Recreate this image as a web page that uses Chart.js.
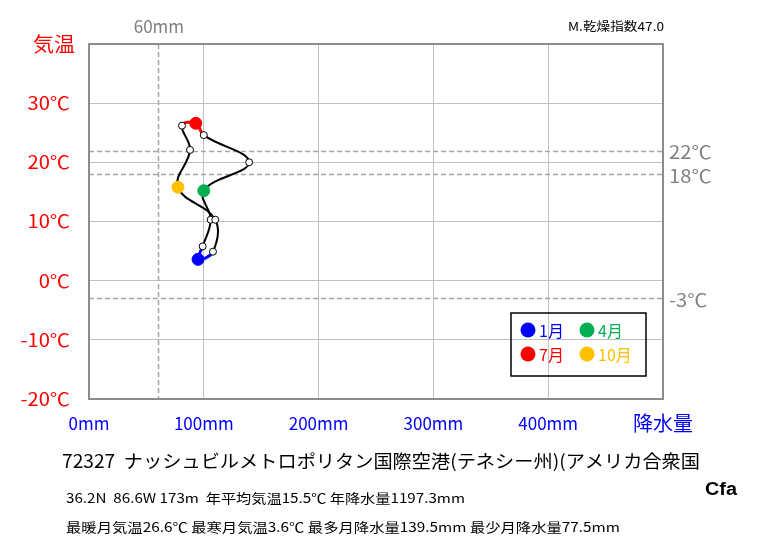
<!DOCTYPE html>
<html lang="ja">
<head>
<meta charset="utf-8">
<script src="https://cdn.jsdelivr.net/npm/chart.js@4.4.1/dist/chart.umd.min.js"></script>
<style>
body { margin: 0; background: #fff; }
#wrap { width: 763px; height: 545px; }
</style>
</head>
<body>
<div id="wrap"><canvas id="climo" width="763" height="545"></canvas></div>
<script>
// 月別の平年値 (ナッシュビル)
const months = ['1月', '2月', '3月', '4月', '5月', '6月', '7月', '8月', '9月', '10月', '11月', '12月'];
const precip = [95, 99, 106, 100, 139.5, 100, 93, 81, 88, 77.5, 110, 108];
const temps = [3.6, 5.8, 10.3, 15.2, 20.0, 24.6, 26.6, 26.2, 22.1, 15.8, 10.3, 4.9];

// 軸ラベル
const xTicks = [0, 100, 200, 300, 400];
const xTickLabels = ['0mm', '100mm', '200mm', '300mm', '400mm'];
const yTicks = [30, 20, 10, 0, -10, -20];
const yTickLabels = ['30℃', '20℃', '10℃', '0℃', '-10℃', '-20℃'];

// 区分線
const refTemps = [22, 18, -3];
const refTempLabels = ['22℃', '18℃', '-3℃'];
const refPrecip = 60;
const refPrecipLabel = '60mm';

// 強調する月
const keyMonths = [0, 3, 6, 9];
const keyColors = ['#0000ff', '#00b050', '#ff0000', '#ffc000'];

const JP = '"Noto Sans CJK JP", "Noto Sans", sans-serif';

// 閉じた曲線にするため 12月,1月...12月,1月,2月 の順に並べる
const order = [11].concat(months.map((m, i) => i), [0, 1]);
const points = order.map(i => ({ x: precip[i], y: temps[i] }));
const lastIdx = order.length - 1;

function keyColorOf(monthIdx) {
    const k = keyMonths.indexOf(monthIdx);
    return k >= 0 ? keyColors[k] : null;
}

function segColor(ctx) {
    const a = ctx.p0DataIndex;
    if (a === 0 || a === lastIdx - 1) return 'rgba(0,0,0,0)';
    const m0 = order[a], m1 = order[a + 1];
    if (m0 === 0 || m1 === 0) return keyColors[0];
    if (m0 === 6 || m1 === 6) return keyColors[2];
    return '#000000';
}

function segWidth(ctx) {
    const m0 = order[ctx.p0DataIndex], m1 = order[ctx.p0DataIndex + 1];
    return (m0 === 0 || m1 === 0 || m0 === 6 || m1 === 6) ? 3 : 2;
}

const pointRadius = order.map((m, i) => {
    if (i === 0 || i >= lastIdx - 1) return 0;
    return keyColorOf(m) ? 6 : 3.5;
});
const pointBg = order.map(m => keyColorOf(m) || '#ffffff');
const pointBorder = order.map(m => keyColorOf(m) ? keyColorOf(m) : '#000000');

// 幅を指定して文字を描く (align: 'left' | 'right')
function fitText(ctx, text, x, y, width, align) {
    const w = ctx.measureText(text).width;
    ctx.save();
    ctx.textAlign = 'left';
    ctx.translate(align === 'right' ? x - width : x, y);
    ctx.scale(width / w, 1);
    ctx.fillText(text, 0, 0);
    ctx.restore();
}

const decorPlugin = {
    id: 'decor',
    beforeDatasetsDraw(chart) {
        const { ctx, chartArea: ca, scales } = chart;
        ctx.save();
        ctx.strokeStyle = '#a6a6a6';
        ctx.lineWidth = 1.5;
        ctx.setLineDash([5, 3]);
        refTemps.forEach(t => {
            const y = Math.round(scales.y.getPixelForValue(t)) + 0.5;
            ctx.beginPath();
            ctx.moveTo(ca.left, y);
            ctx.lineTo(ca.right, y);
            ctx.stroke();
        });
        const x60 = Math.round(scales.x.getPixelForValue(refPrecip)) + 0.5;
        ctx.beginPath();
        ctx.moveTo(x60, ca.top);
        ctx.lineTo(x60, ca.bottom);
        ctx.stroke();
        ctx.restore();
    },
    afterDraw(chart) {
        const { ctx, chartArea: ca, scales } = chart;
        ctx.save();

        // 枠
        ctx.strokeStyle = '#8c8c8c';
        ctx.lineWidth = 2;
        ctx.strokeRect(ca.left, ca.top, ca.right - ca.left, ca.bottom - ca.top);

        // 気温目盛
        ctx.fillStyle = '#ff0000';
        ctx.font = '18px ' + JP;
        ctx.textBaseline = 'middle';
        yTicks.forEach((t, i) => {
            const w = ctx.measureText(yTickLabels[i]).width * 1.12;
            fitText(ctx, yTickLabels[i], 70, scales.y.getPixelForValue(t), w, 'right');
        });
        ctx.font = '20px ' + JP;
        fitText(ctx, '気温', 33, 44, 42);

        // 降水量目盛
        ctx.fillStyle = '#0000ff';
        ctx.font = '17px ' + JP;
        ctx.textAlign = 'center';
        xTicks.forEach((v, i) => {
            ctx.fillText(xTickLabels[i], scales.x.getPixelForValue(v), 424);
        });
        ctx.font = '20px ' + JP;
        ctx.fillText('降水量', scales.x.getPixelForValue(500), 423);

        // 区分線ラベル
        ctx.fillStyle = '#808080';
        ctx.font = '18px ' + JP;
        refTemps.forEach((t, i) => {
            const w = ctx.measureText(refTempLabels[i]).width * 1.12;
            fitText(ctx, refTempLabels[i], 669, scales.y.getPixelForValue(t) + 2, w);
        });
        ctx.font = '17px ' + JP;
        ctx.textAlign = 'center';
        ctx.fillText(refPrecipLabel, scales.x.getPixelForValue(refPrecip) + 1, 27);

        // 乾燥指数
        ctx.fillStyle = '#000000';
        ctx.font = '12px ' + JP;
        fitText(ctx, 'M.乾燥指数47.0', 568, 26, 96);

        // 凡例
        ctx.strokeStyle = '#000000';
        ctx.lineWidth = 1.5;
        ctx.strokeRect(511, 313, 135, 63);
        ctx.font = '16px ' + JP;
        ctx.textAlign = 'left';
        keyMonths.forEach((m, k) => {
            const cx = 528 + (k % 2) * 59;
            const cy = 330 + Math.floor(k / 2) * 24;
            ctx.fillStyle = keyColors[k];
            ctx.beginPath();
            ctx.arc(cx, cy, 7.5, 0, Math.PI * 2);
            ctx.fill();
            ctx.fillText(months[m], cx + 11, cy + 1);
        });

        // 地点情報
        ctx.fillStyle = '#000000';
        ctx.font = '18px ' + JP;
        fitText(ctx, '72327  ナッシュビルメトロポリタン国際空港(テネシー州)(アメリカ合衆国', 62, 461, 638);
        ctx.font = 'bold 18px "Liberation Sans", Arial, sans-serif';
        fitText(ctx, 'Cfa', 705, 490, 32);
        ctx.font = '13px ' + JP;
        fitText(ctx, '36.2N  86.6W 173m  年平均気温15.5℃ 年降水量1197.3mm', 66, 498, 399);
        fitText(ctx, '最暖月気温26.6℃ 最寒月気温3.6℃ 最多月降水量139.5mm 最少月降水量77.5mm', 66, 527, 554);

        ctx.restore();
    }
};

new Chart(document.getElementById('climo'), {
    type: 'scatter',
    data: {
        datasets: [{
            data: points,
            showLine: true,
            tension: 0.4,
            borderColor: '#000000',
            borderWidth: 2,
            segment: { borderColor: segColor, borderWidth: segWidth },
            pointRadius: pointRadius,
            pointBackgroundColor: pointBg,
            pointBorderColor: pointBorder,
            pointBorderWidth: 1,
            pointHoverRadius: pointRadius
        }]
    },
    options: {
        responsive: false,
        animation: false,
        layout: { padding: { left: 89, top: 44, right: 100, bottom: 146 } },
        plugins: { legend: { display: false }, tooltip: { enabled: false } },
        scales: {
            x: {
                type: 'linear', min: 0, max: 500,
                ticks: { stepSize: 100, display: false },
                grid: { color: '#c0c0c0', drawTicks: false },
                border: { display: false }
            },
            y: {
                type: 'linear', min: -20, max: 40,
                ticks: { stepSize: 10, display: false },
                grid: { color: '#c0c0c0', drawTicks: false },
                border: { display: false }
            }
        }
    },
    plugins: [decorPlugin]
});
</script>
</body>
</html>
